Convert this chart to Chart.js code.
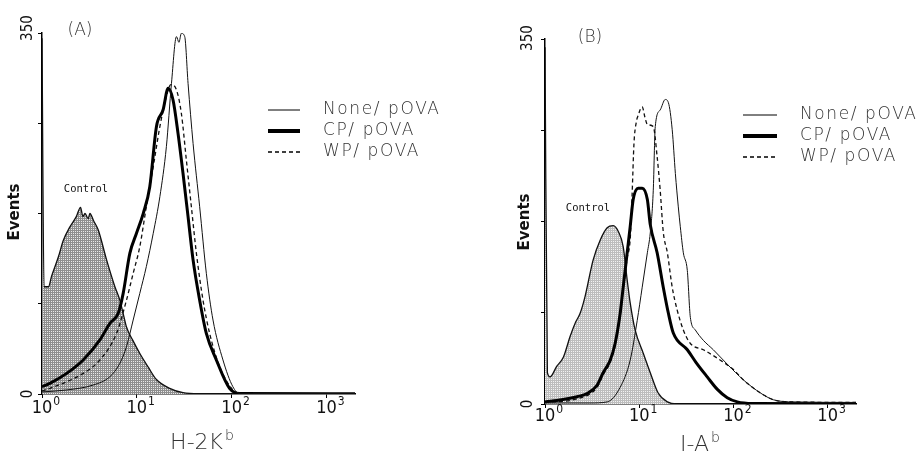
<!DOCTYPE html>
<html>
<head>
<meta charset="utf-8">
<script src="https://cdn.jsdelivr.net/npm/chart.js@4.4.1/dist/chart.umd.min.js"></script>
<style>
  html, body { margin: 0; padding: 0; background: #fff; }
  #wrap { position: relative; width: 919px; height: 452px; overflow: hidden; background: #fff; }
  .panel { position: absolute; top: 0; }
</style>
</head>
<body>
<div id="wrap">
  <div class="panel" style="left:0px"><canvas id="cA" width="460" height="452"></canvas></div>
  <div class="panel" style="left:460px"><canvas id="cB" width="459" height="452"></canvas></div>
</div>
<script>
// ---------------- DATA ----------------
const seriesLabels = ['None/ pOVA', 'CP/ pOVA', 'WP/ pOVA'];
const controlLabel = 'Control';
const xTickValues = [1, 10, 100, 1000];
const xTickBase = '10';
const xTickExps = ['0', '1', '2', '3'];
const yTickValues = [0, 87.5, 175, 262.5, 350];
const yLabelValues = [0, 350];

// Panel A : H-2Kb
const ctrlA_x = [1, 1.05, 1.17, 1.26, 1.49, 1.68, 1.97, 2.3, 2.55, 2.7, 2.84, 3.07, 3.2, 3.5, 3.92, 4.8, 5.87, 6.62, 7.18, 7.78, 9.08, 10.8, 13.2, 16.1, 22.2, 30.7, 46, 2000];
const ctrlA_y = [345, 104, 104, 114, 133, 149, 162, 172, 181, 172, 175, 170, 175, 168, 159, 130, 104, 91, 78, 65, 52, 39, 26, 14, 5.5, 1.3, 0.3, 0];
const noneA_x = [1, 1.82, 3.47, 5.2, 6.62, 7.78, 9.15, 10.75, 12.6, 14.9, 17.5, 20.5, 23.2, 26.2, 27.8, 29.5, 32, 34.7, 39.2, 46, 54.1, 63.6, 81, 103, 121, 2000];
const noneA_y = [2, 3.9, 8.7, 16.8, 29.7, 45.9, 71.7, 97.6, 123.5, 155.8, 191.3, 239.8, 301.2, 346.5, 341, 349.7, 346.5, 301.2, 243, 181.6, 117, 71.7, 33, 7.1, 0.6, 0.3];
const cpA_x = [1, 1.21, 1.82, 2.72, 4.08, 5.2, 6.36, 7.18, 8.44, 9.92, 11.7, 13.7, 16.1, 18.9, 21.4, 24.1, 27.2, 30.7, 34.7, 39.2, 46, 54.1, 69, 95, 121, 2000];
const cpA_y = [7, 10.3, 20, 33, 52.4, 68.5, 78.2, 97.6, 136.4, 155.8, 175.2, 201, 259.2, 275.3, 296.4, 285, 252.7, 214, 172, 130, 91, 58.8, 33, 5.5, 0.6, 0.3];
const wpA_x = [1, 1.21, 2.72, 4.08, 6.11, 7.78, 9.15, 10.75, 12.6, 14.9, 17.5, 20.5, 22.8, 26.2, 29.5, 33.3, 37.6, 42.5, 49.9, 58.6, 74.8, 103, 121, 2000];
const wpA_y = [3, 5.5, 20, 33, 58.8, 91, 117, 142.8, 181.6, 220.4, 259.2, 288.3, 300, 294.7, 272, 226.9, 181.6, 136.4, 91, 58.8, 26.5, 3.9, 0.5, 0.3];

// Panel B : I-Ab
const ctrlB_x = [1, 1.06, 1.13, 1.33, 1.57, 1.85, 2.1, 2.36, 2.66, 3.24, 3.85, 4.57, 5.3, 6.03, 6.76, 7.45, 8.02, 9.05, 11, 13.1, 15.9, 19.9, 25, 2000];
const ctrlB_y = [342, 30, 26, 36, 45, 65, 78, 87, 103, 138, 157, 169, 171, 165, 151, 119, 97, 71, 49, 30, 10.5, 2, 0, 0];
const noneB_x = [1, 3, 4.57, 6.28, 8.02, 9.52, 10.76, 12.2, 13.1, 14.1, 14.8, 16.7, 18.9, 20.4, 22.4, 24.2, 26, 27.3, 29.4, 32.4, 34.9, 39.4, 48, 61.2, 86.3, 128, 194, 267, 435, 2000];
const noneB_y = [1, 1, 2, 16, 42, 80, 112, 145, 164, 205, 266, 282, 292, 289, 263, 221, 189, 170, 145, 128, 83, 71, 61, 52, 38, 23, 10.5, 4, 2, 1.5];
const cpB_x = [1, 1.5, 2.19, 2.8, 3.57, 4.14, 4.92, 5.55, 6.28, 6.76, 7.45, 8.02, 8.63, 9.76, 10.76, 12.2, 13.1, 15.5, 18, 20.4, 23, 32.4, 40, 52.7, 67.5, 86, 110, 160, 2000];
const cpB_y = [2, 4, 7, 10, 18, 30, 42, 58, 87, 112, 145, 170, 196, 207, 207, 196, 172, 145, 112, 87, 68, 52, 40, 26, 14, 6, 2, 0.5, 0.3];
const wpB_x = [1, 2.19, 3.57, 4.14, 4.92, 5.55, 6.28, 6.76, 7.45, 8.02, 8.4, 8.8, 9.3, 9.76, 10.76, 11.5, 12.2, 14.1, 15.5, 16.7, 18, 19.9, 22.4, 25.3, 29.4, 34.9, 48, 72.7, 100, 128, 194, 267, 435, 2000];
const wpB_y = [1.5, 5, 16, 28, 40, 56, 85, 110, 140, 158, 200, 250, 270, 277, 285, 275, 268, 266, 237, 205, 165, 145, 112, 90, 71, 58, 52, 42, 33, 23, 10.5, 4, 2, 1.5];

// ---------------- HELPERS ----------------
const pts = (xs, ys) => xs.map((x, i) => ({ x: x, y: ys[i] }));

function makePattern(base, light) {
  const c = document.createElement('canvas');
  c.width = 2; c.height = 2;
  const g = c.getContext('2d');
  g.fillStyle = base; g.fillRect(0, 0, 2, 2);
  g.fillStyle = light; g.fillRect(1, 1, 1, 1);
  return g.createPattern(c, 'repeat');
}

const LIGHT = "'DejaVu Sans', 'Noto Sans', sans-serif";
const NARROW = "'Liberation Sans Narrow', 'DejaVu Sans Condensed', 'Liberation Sans', sans-serif";

const decor = {
  id: 'decor',
  afterDraw(chart, args, o) {
    const ctx = chart.ctx;
    const xs = chart.scales.x, ys = chart.scales.y;
    ctx.save();
    ctx.fillStyle = '#111';
    // x tick labels (10^n)
    ctx.textBaseline = 'middle';
    ctx.textAlign = 'left';
    xTickValues.forEach((v, i) => {
      const px = xs.getPixelForValue(v);
      ctx.font = "18px " + NARROW;
      const w = ctx.measureText(xTickBase).width;
      const ty = ys.bottom + o.xTickOffset;
      ctx.fillText(xTickBase, px - w / 2, ty);
      ctx.font = "12px " + NARROW;
      ctx.fillText(xTickExps[i], px + w / 2 + 1, ty - 6);
    });
    // y labels, rotated
    ctx.font = "15px " + NARROW;
    ctx.textAlign = 'center';
    yLabelValues.forEach(v => {
      const py = ys.getPixelForValue(v) + (v > 0 ? o.topLabelShift : 0);
      ctx.save();
      ctx.translate(xs.left - o.yLabelGap, py);
      ctx.rotate(-Math.PI / 2);
      ctx.fillText(String(v), 0, 0);
      ctx.restore();
    });
    // Events (y title)
    ctx.save();
    ctx.font = "bold 15px " + LIGHT;
    ctx.translate(o.yTitle[0], o.yTitle[1]);
    ctx.rotate(-Math.PI / 2);
    ctx.fillText('Events', 0, 0);
    ctx.restore();
    // x title with superscript
    ctx.fillStyle = '#333';
    ctx.font = "200 22px " + LIGHT;
    const mw = ctx.measureText(o.xTitle).width;
    ctx.font = "200 14px " + LIGHT;
    const sw = ctx.measureText(o.xTitleSup).width;
    const x0 = o.xTitlePos[0] - (mw + sw + 2) / 2;
    ctx.textAlign = 'left';
    ctx.textBaseline = 'alphabetic';
    ctx.font = "200 22px " + LIGHT;
    ctx.fillText(o.xTitle, x0, o.xTitlePos[1]);
    ctx.font = "200 14px " + LIGHT;
    ctx.fillText(o.xTitleSup, x0 + mw + 2, o.xTitlePos[1] - 9);
    // panel label
    ctx.font = "200 17px " + LIGHT;
    ctx.textAlign = 'center';
    ctx.textBaseline = 'middle';
    ctx.fillText(o.panel, o.panelPos[0], o.panelPos[1]);
    // control label
    ctx.fillStyle = '#111';
    ctx.font = "10.5px 'DejaVu Sans Mono', 'Liberation Mono', monospace";
    ctx.fillText(controlLabel, o.ctrlPos[0], o.ctrlPos[1]);
    // legend
    const ds = chart.data.datasets.filter(d => d.label !== controlLabel);
    ds.forEach((d, i) => {
      const y = o.legend.rows[i];
      ctx.save();
      ctx.strokeStyle = '#000';
      ctx.lineWidth = d.borderWidth + (d.borderWidth > 2 ? 1 : 0);
      ctx.setLineDash(d.borderDash || []);
      ctx.beginPath();
      ctx.moveTo(o.legend.x1, y);
      ctx.lineTo(o.legend.x2, y);
      ctx.stroke();
      ctx.restore();
      ctx.fillStyle = '#333';
      ctx.font = "200 17px " + LIGHT;
      ctx.textAlign = 'left';
      ctx.textBaseline = 'middle';
      try { ctx.letterSpacing = '1.6px'; } catch (e) {}
      ctx.fillText(d.label, o.legend.tx, y);
      try { ctx.letterSpacing = '0px'; } catch (e) {}
    });
    ctx.restore();
  }
};

function buildChart(id, sets, fillPat, pad, deco) {
  const datasets = [
    { label: controlLabel, data: pts(sets.ctrl[0], sets.ctrl[1]), borderColor: '#111', borderWidth: 1.3,
      backgroundColor: fillPat, fill: 'origin', order: 4 },
    { label: seriesLabels[0], data: pts(sets.none[0], sets.none[1]), borderColor: '#111', borderWidth: 1, fill: false, order: 1 },
    { label: seriesLabels[1], data: pts(sets.cp[0], sets.cp[1]), borderColor: '#000', borderWidth: 3, fill: false, order: 2 },
    { label: seriesLabels[2], data: pts(sets.wp[0], sets.wp[1]), borderColor: '#111', borderWidth: 1.3, borderDash: [4, 3], fill: false, order: 3 }
  ];
  return new Chart(document.getElementById(id), {
    type: 'line',
    data: { datasets },
    plugins: [decor],
    options: {
      responsive: false, animation: false, devicePixelRatio: 1,
      layout: { padding: pad },
      elements: { point: { radius: 0 }, line: { cubicInterpolationMode: 'monotone' } },
      plugins: { legend: { display: false }, tooltip: { enabled: false }, decor: deco },
      scales: {
        x: {
          type: 'logarithmic', min: 1, max: 2000,
          afterBuildTicks: s => { s.ticks = xTickValues.map(v => ({ value: v })); },
          ticks: { display: false },
          grid: { drawOnChartArea: false, drawTicks: true, tickLength: 4, color: '#000', lineWidth: 1 },
          border: { display: true, color: '#000', width: 1.5 },
          afterFit: s => { s.height = 40; }
        },
        y: {
          type: 'linear', min: 0, max: 350,
          afterBuildTicks: s => { s.ticks = yTickValues.map(v => ({ value: v })); },
          ticks: { display: false },
          grid: { drawOnChartArea: false, drawTicks: true, tickLength: 4, color: '#000', lineWidth: 1 },
          border: { display: true, color: '#000', width: 1.5 },
          afterFit: s => { s.width = 30; }
        }
      }
    }
  });
}

buildChart('cA',
  { ctrl: [ctrlA_x, ctrlA_y], none: [noneA_x, noneA_y], cp: [cpA_x, cpA_y], wp: [wpA_x, wpA_y] },
  makePattern('#8e8e8e', '#e8e8e8'),
  { left: 12, right: 105, top: 33, bottom: 18 },
  { panel: '(A)', panelPos: [80, 31], xTitle: 'H-2K', xTitleSup: 'b', xTitlePos: [202, 449],
    yTitle: [15, 212], ctrlPos: [86, 189], xTickOffset: 14, yLabelGap: 14, topLabelShift: -5,
    legend: { x1: 268, x2: 300, tx: 323, rows: [110, 131, 152] } }
);

buildChart('cB',
  { ctrl: [ctrlB_x, ctrlB_y], none: [noneB_x, noneB_y], cp: [cpB_x, cpB_y], wp: [wpB_x, wpB_y] },
  makePattern('#bdbdbd', '#f2f2f2'),
  { left: 55, right: 63, top: 39, bottom: 8 },
  { panel: '(B)', panelPos: [130, 38], xTitle: 'I-A', xTitleSup: 'b', xTitlePos: [240, 451],
    yTitle: [65, 222], ctrlPos: [128, 208], xTickOffset: 12, yLabelGap: 17, topLabelShift: -1,
    legend: { x1: 283, x2: 317, tx: 340, rows: [115, 136, 157] } }
);
</script>
</body>
</html>
